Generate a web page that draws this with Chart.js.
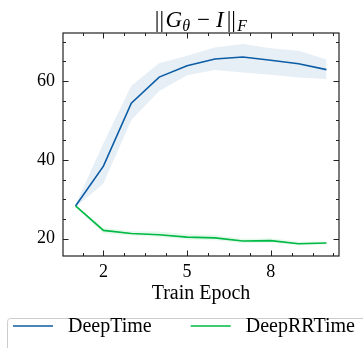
<!DOCTYPE html>
<html>
<head>
<meta charset="utf-8">
<script src="https://cdn.jsdelivr.net/npm/chart.js@4.4.0/dist/chart.umd.min.js"></script>
<style>
html, body { margin: 0; padding: 0; background: #fff; }
#wrap { width: 363px; height: 348px; }
</style>
</head>
<body>
<div id="wrap"><canvas id="chart" width="363" height="348"></canvas></div>
<script>
// values
var epochs = [1, 2, 3, 4, 5, 6, 7, 8, 9, 10];
var deepTime = [28.3, 38.4, 54.4, 61.0, 63.9, 65.6, 66.1, 65.3, 64.4, 62.9];
var deepTimeUpper = [28.6, 44.2, 58.8, 64.5, 66.4, 68.5, 69.4, 68.3, 67.7, 65.5];
var deepTimeLower = [28.0, 34.0, 50.1, 57.5, 61.5, 62.8, 62.2, 61.6, 60.9, 60.5];
var deepRRTime = [28.3, 22.1, 21.3, 21.0, 20.4, 20.2, 19.4, 19.5, 18.7, 18.9];
var deepRRTimeUpper = [28.5, 22.8, 21.9, 21.8, 21.1, 20.9, 20.0, 20.1, 19.2, 19.3];
var deepRRTimeLower = [28.1, 21.4, 20.8, 20.4, 19.8, 19.6, 18.9, 19.0, 18.3, 18.5];
var xTicks = [2, 5, 8];
var xMinorTicks = [1.25, 2.75, 3.5, 4.25, 5.75, 6.5, 7.25, 8.75, 9.5, 10.25];
var yTicks = [20, 40, 60];
var yMinorTicks = [25, 30, 35, 45, 50, 55, 65, 70];
var seriesLabels = ['DeepTime', 'DeepRRTime'];

var blue = '#0C5DA5';
var green = '#00B945';
var serif = '"Liberation Serif", "Times New Roman", serif';

function points(ys) {
    return epochs.map(function (e, i) { return {x: e, y: ys[i]}; });
}

// inward ticks on all four sides plus the frame, like the matplotlib axes
var frameTicks = {
    id: 'frameTicks',
    afterDraw: function (chart) {
        var ctx = chart.ctx;
        var a = chart.chartArea;
        var xs = chart.scales.x, ys = chart.scales.y;
        ctx.save();
        ctx.strokeStyle = '#222';
        ctx.lineWidth = 1;
        ctx.beginPath();
        function xt(v, len) {
            var px = Math.round(xs.getPixelForValue(v)) + 0.5;
            ctx.moveTo(px, a.bottom); ctx.lineTo(px, a.bottom - len);
            ctx.moveTo(px, a.top); ctx.lineTo(px, a.top + len);
        }
        function yt(v, len) {
            var py = Math.round(ys.getPixelForValue(v)) + 0.5;
            ctx.moveTo(a.left, py); ctx.lineTo(a.left + len, py);
            ctx.moveTo(a.right, py); ctx.lineTo(a.right - len, py);
        }
        xTicks.forEach(function (v) { xt(v, 5.5); });
        xMinorTicks.forEach(function (v) { xt(v, 3); });
        yTicks.forEach(function (v) { yt(v, 5.5); });
        yMinorTicks.forEach(function (v) { yt(v, 3); });
        ctx.stroke();
        ctx.lineWidth = 1.2;
        ctx.strokeRect(a.left, a.top, a.right - a.left, a.bottom - a.top);
        ctx.restore();
    }
};

// title ||G_theta - I||_F, italic letters and subscripts
var mathTitle = {
    id: 'mathTitle',
    afterDraw: function (chart) {
        var ctx = chart.ctx;
        var a = chart.chartArea;
        var size = 23;
        var parts = [
            {t: '||', it: false, sub: false, gap: 1.5},
            {t: 'G', it: true, sub: false, gap: 0},
            {t: 'θ', it: true, sub: true, gap: 7},
            {t: '−', it: false, sub: false, gap: 6},
            {t: 'I', it: true, sub: false, gap: 3},
            {t: '||', it: false, sub: false, gap: 1.5},
            {t: 'F', it: true, sub: true, gap: 0}
        ];
        function font(p) {
            return (p.it ? 'italic ' : '') + (p.sub ? 16 : size) + 'px ' + serif;
        }
        ctx.save();
        var total = 0;
        parts.forEach(function (p) {
            ctx.font = font(p);
            p.w = ctx.measureText(p.t).width;
            total += p.w + p.gap;
        });
        var x = (a.left + a.right) / 2 - total / 2;
        var base = 26.5;
        ctx.fillStyle = '#000';
        ctx.textBaseline = 'alphabetic';
        ctx.textAlign = 'left';
        parts.forEach(function (p) {
            ctx.font = font(p);
            ctx.fillText(p.t, x, p.sub ? base + 4 : base);
            x += p.w + p.gap;
        });
        ctx.restore();
    }
};

// boxed legend under the axes
var boxLegend = {
    id: 'boxLegend',
    afterDraw: function (chart) {
        var ctx = chart.ctx;
        ctx.save();
        ctx.strokeStyle = '#cccccc';
        ctx.lineWidth = 1;
        ctx.beginPath();
        ctx.roundRect(7.5, 318.5, 400, 40, 3);
        ctx.stroke();
        ctx.font = '20px ' + serif;
        ctx.textBaseline = 'middle';
        ctx.fillStyle = '#000';
        var colors = [blue, green];
        var x = 13, y = 326;
        seriesLabels.forEach(function (label, i) {
            ctx.strokeStyle = colors[i];
            ctx.lineWidth = 1.6;
            ctx.beginPath();
            ctx.moveTo(x, y); ctx.lineTo(x + 40, y);
            ctx.stroke();
            ctx.fillText(label, x + 55, y + 1);
            x += 55 + ctx.measureText(label).width + 39;
        });
        ctx.restore();
    }
};

new Chart(document.getElementById('chart'), {
    type: 'line',
    data: {
        datasets: [
            {label: seriesLabels[1], data: points(deepRRTime), borderColor: green, borderWidth: 1.6, pointRadius: 0, fill: false, order: 0},
            {label: seriesLabels[0], data: points(deepTime), borderColor: blue, borderWidth: 1.6, pointRadius: 0, fill: false, order: 1},
            {label: 'rr-upper', data: points(deepRRTimeUpper), borderWidth: 0, pointRadius: 0, backgroundColor: 'rgba(0,185,69,0.1)', fill: '+1', order: 2},
            {label: 'rr-lower', data: points(deepRRTimeLower), borderWidth: 0, pointRadius: 0, fill: false, order: 3},
            {label: 'dt-upper', data: points(deepTimeUpper), borderWidth: 0, pointRadius: 0, backgroundColor: 'rgba(12,93,165,0.1)', fill: '+1', order: 4},
            {label: 'dt-lower', data: points(deepTimeLower), borderWidth: 0, pointRadius: 0, fill: false, order: 5}
        ]
    },
    options: {
        responsive: false,
        devicePixelRatio: 1,
        animation: false,
        layout: {padding: {top: 33, right: 24, bottom: 42, left: 0}},
        plugins: {
            legend: {display: false},
            tooltip: {enabled: false},
            title: {display: false}
        },
        scales: {
            x: {
                type: 'linear',
                min: 0.55,
                max: 10.45,
                border: {display: false},
                grid: {display: false, drawTicks: false},
                afterBuildTicks: function (scale) {
                    scale.ticks = xTicks.map(function (v) { return {value: v}; });
                },
                afterFit: function (scale) { scale.height = 50; },
                ticks: {color: '#000', padding: 5, maxRotation: 0, font: {family: serif, size: 18}},
                title: {display: true, text: 'Train Epoch', color: '#000', padding: {top: 0, bottom: 0}, font: {family: serif, size: 20}}
            },
            y: {
                min: 15.6,
                max: 72.2,
                border: {display: false},
                grid: {display: false, drawTicks: false},
                afterBuildTicks: function (scale) {
                    scale.ticks = yTicks.map(function (v) { return {value: v}; });
                },
                afterFit: function (scale) { scale.width = 63; },
                ticks: {color: '#000', padding: 8, font: {family: serif, size: 18}}
            }
        }
    },
    plugins: [frameTicks, mathTitle, boxLegend]
});
</script>
</body>
</html>
